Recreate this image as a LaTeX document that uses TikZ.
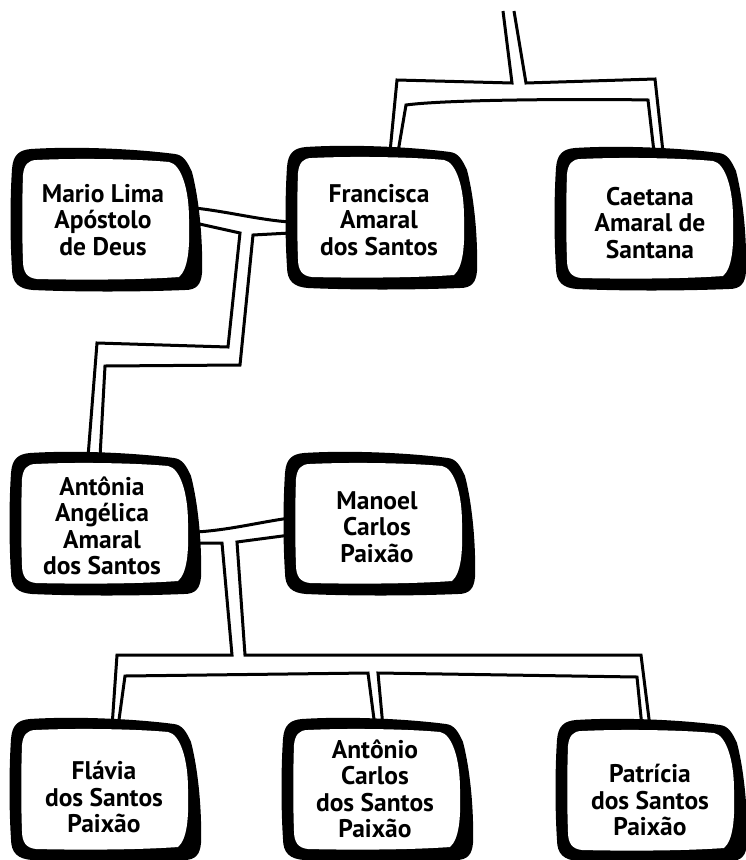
\documentclass[tikz,border=0pt]{standalone}
\usepackage{fontspec}
\setmainfont{PT Sans}
\tikzset{
  lbl/.style={font=\bfseries\fontsize{25.5}{26.5}\selectfont, align=center, text=black, inner sep=0pt},
  wire/.style={line width=3pt, line join=miter, line cap=butt, draw=black},
}
\newcommand{\tvframe}[2]{%
  \begin{scope}[shift={(#1,#2)}]
    \fill[black] (-76,-70) .. controls (-30,-73) and (30,-70) .. (68,-65)
      .. controls (76,-64) and (80,-58) .. (85,-47)
      .. controls (92,-20) and (96,20) .. (95,54)
      .. controls (94,66) and (89,71) .. (78,71)
      .. controls (30,73) and (-30,73) .. (-74,71)
      .. controls (-88,70) and (-95,64) .. (-95,50)
      .. controls (-97,20) and (-97,-20) .. (-95,-50)
      .. controls (-94,-64) and (-88,-69) .. (-76,-70) -- cycle;
    \fill[white] (-70,-59) .. controls (-30,-61) and (30,-60) .. (62,-57)
      .. controls (74,-55) and (82,-30) .. (82,0)
      .. controls (83,30) and (81,50) .. (72,58)
      .. controls (30,61) and (-30,61) .. (-70,60)
      .. controls (-80,59) and (-84,53) .. (-84,42)
      .. controls (-85,15) and (-85,-15) .. (-84,-44)
      .. controls (-83,-54) and (-79,-59) .. (-70,-59) -- cycle;
  \end{scope}}
\begin{document}
\begin{tikzpicture}[x=1pt,y=-1pt]
\useasboundingbox[fill=white] (0,0) rectangle (746,860);

% ---------- connectors (drawn first, boxes cover their ends) ----------
\coordinate (top) at (508,11);
% top: parents of Francisca and Caetana
\draw[wire] (503,11) -- (512,83) -- (397,80) -- (390,152);
\draw[wire] (398,152) -- (406,105) .. controls (450,99) and (600,99) .. (648,100) -- (654,152);
\draw[wire] (663,152) -- (655,79) -- (526,83) -- (514,11);

% Mario + Francisca -> Antonia
\draw[wire] (195,208) .. controls (230,212) and (260,220) .. (290,222);
\draw[wire] (195,223) -- (240,233) -- (228,347) -- (97,343) -- (88,457);
\draw[wire] (100,457) -- (105,366) -- (240,365) -- (253,235) -- (290,233);

% Antonia + Manoel -> children
\draw[wire] (196,532) .. controls (230,530) and (260,522) .. (290,518);
\draw[wire] (196,543) -- (222,543) -- (232,655) -- (117,655) -- (112,727);
\draw[wire] (118,727) -- (125,676) -- (368,673) -- (375,727);
\draw[wire] (383,727) -- (378,673) -- (637,677) -- (642,727);
\draw[wire] (650,727) -- (641,655) -- (245,655) -- (237,542) -- (290,535);

% ---------- boxes ----------
\tvframe{107}{219}
\node[lbl] (mario) at (103,220) {Mario Lima\\Apóstolo\\de Deus};
\tvframe{382}{217}
\node[lbl] (fran) at (379,220) {Francisca\\Amaral\\dos Santos};
\tvframe{651}{218}
\node[lbl] (caet) at (650,223) {Caetana\\Amaral de\\Santana};

\tvframe{106}{523}
\node[lbl] (anto) at (102,526) {Antônia\\Angélica\\Amaral\\dos Santos};
\tvframe{380}{523}
\node[lbl] (mano) at (377,527) {Manoel\\Carlos\\Paixão};

\tvframe{106}{789}
\node[lbl] (flav) at (104,797) {Flávia\\dos Santos\\Paixão};
\tvframe{378}{789}
\node[lbl] (acar) at (375,789) {Antônio\\Carlos\\dos Santos\\Paixão};
\tvframe{652}{790}
\node[lbl] (patr) at (650,800) {Patrícia\\dos Santos\\Paixão};
\end{tikzpicture}
\end{document}
